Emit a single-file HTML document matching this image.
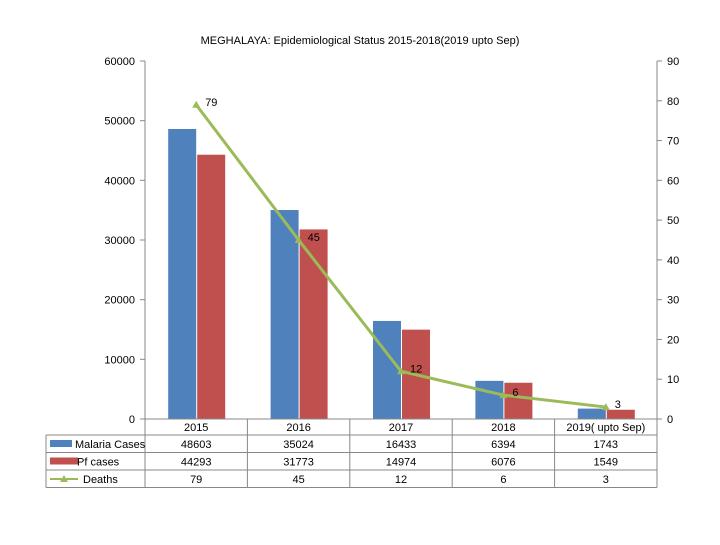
<!DOCTYPE html>
<html><head><meta charset="utf-8"><style>
body{margin:0;background:#fff;}
svg text{font-family:"Liberation Sans",sans-serif;font-size:11px;fill:#000;}
</style></head><body>
<svg id="c" width="720" height="540"></svg>
<script>
const categories=["2015","2016","2017","2018","2019( upto Sep)"];
const malaria=[48603,35024,16433,6394,1743];
const pf=[44293,31773,14974,6076,1549];
const deaths=[79,45,12,6,3];
const leftTicks=[0,10000,20000,30000,40000,50000,60000];
const rightTicks=[0,10,20,30,40,50,60,70,80,90];
const NS="http://www.w3.org/2000/svg";
const svg=document.getElementById('c');
const X0=145,X1=657,Y0=419,Y1=61;
const cw=(X1-X0)/categories.length;
const yL=v=>Y0-(v/60000)*(Y0-Y1);
const yR=v=>Y0-(v/90)*(Y0-Y1);
const xc=i=>X0+cw*(i+0.5);
function mk(t,a,txt){const e=document.createElementNS(NS,t);for(const k in a)e.setAttribute(k,a[k]);if(txt!==undefined)e.textContent=txt;svg.appendChild(e);return e;}
let e;
e=mk('text',{x:360,y:44,'text-anchor':'middle','font-size':'12'},'MEGHALAYA: Epidemiological Status 2015-2018(2019 upto Sep)');


e=mk('line',{x1:X0,y1:Y1,x2:X0,y2:Y0,stroke:'#888'});


e=mk('line',{x1:X1,y1:Y1,x2:X1,y2:Y0,stroke:'#888'});


leftTicks.forEach(v=>{
  mk('line',{x1:X0-5,y1:yL(v),x2:X0,y2:yL(v),stroke:'#888'});
  e=mk('text',{x:135,y:yL(v)+4,'text-anchor':'end'},v);
  
  
});
rightTicks.forEach(v=>{
  mk('line',{x1:X1,y1:yR(v),x2:X1+5,y2:yR(v),stroke:'#888'});
  e=mk('text',{x:667,y:yR(v)+4},v);
  
  
});
const bw=28;
categories.forEach((c,i)=>{
  e=mk('rect',{x:xc(i)-bw,y:yL(malaria[i]),width:bw,height:Y0-yL(malaria[i]),fill:'#4f81bd'});
  
  
  e=mk('rect',{x:xc(i)+1,y:yL(pf[i]),width:bw,height:Y0-yL(pf[i]),fill:'#c0504d'});
  
  
});
e=mk('polyline',{points:deaths.map((d,i)=>xc(i)+','+yR(d)).join(' '),fill:'none',stroke:'#9bbb59','stroke-width':3});


deaths.forEach((d,i)=>{
  e=mk('polygon',{points:`${xc(i)},${yR(d)-4} ${xc(i)-4},${yR(d)+3} ${xc(i)+4},${yR(d)+3}`,fill:'#9bbb59'});
  
  
  e=mk('text',{x:xc(i)+9,y:yR(d)+1},d);
  
  
});
// table
const T0=435,rh=17.5;
mk('line',{x1:X0,y1:Y0,x2:X1,y2:Y0,stroke:'#888'});
for(let r=0;r<=3;r++)mk('line',{x1:46,y1:T0+r*rh,x2:X1,y2:T0+r*rh,stroke:'#888'});
mk('line',{x1:46,y1:T0,x2:46,y2:T0+3*rh,stroke:'#888'});
for(let i=0;i<=categories.length;i++)mk('line',{x1:X0+cw*i,y1:Y0,x2:X0+cw*i,y2:T0+3*rh,stroke:'#888'});
const rows=[["Malaria Cases",malaria,'#4f81bd'],["Pf cases",pf,'#c0504d'],["Deaths",deaths,'#9bbb59']];
categories.forEach((c,i)=>{
  e=mk('text',{x:xc(i),y:431,'text-anchor':'middle'},c);
  
  
});
rows.forEach((r,k)=>{
  const y=T0+k*rh+13;
  if(k<2){mk('rect',{x:50,y:y-8,width:k==0?22:28,height:7,fill:r[2]});}
  else{mk('line',{x1:50,y1:y-4,x2:78,y2:y-4,stroke:r[2],'stroke-width':2});mk('polygon',{points:`64,${y-8} 60,${y-1} 68,${y-1}`,fill:r[2]});}
  e=mk('text',{x:k==0?75:(k==1?77:83),y:y},r[0]);
  
  
  r[1].forEach((v,i)=>{
    e=mk('text',{x:xc(i),y:y,'text-anchor':'middle'},v);
    
    
  });
});
</script>
</body></html>
